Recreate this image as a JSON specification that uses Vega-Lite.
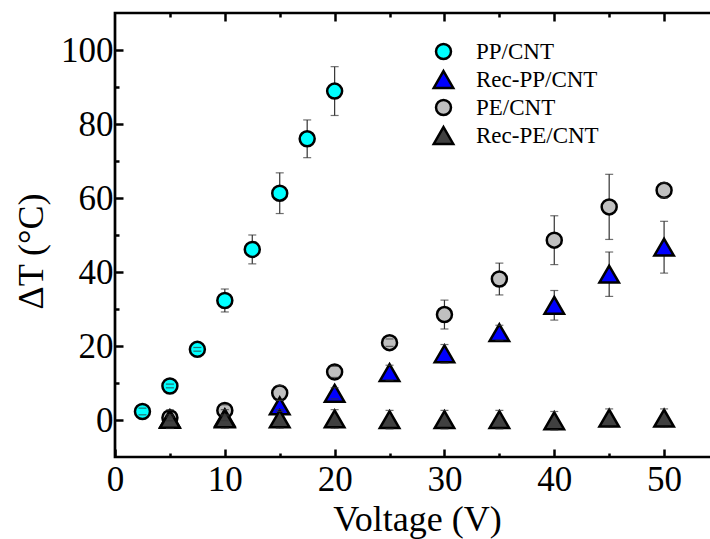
{
  "$schema": "https://vega.github.io/schema/vega-lite/v6.json",
  "width": 604,
  "height": 444,
  "autosize": "none",
  "padding": {"left": 115, "top": 13, "right": -9, "bottom": 82},
  "background": "white",
  "config": {
    "font": "Liberation Serif",
    "view": {"stroke": "black", "strokeWidth": 2.7},
    "axis": {"grid": false, "domain": false, "labelColor": "black", "titleColor": "black", "labelFont": "Liberation Serif", "titleFont": "Liberation Serif", "labelFontSize": 35, "titleFontSize": 36, "titleFontWeight": "normal", "labelFlush": false, "labelOverlap": false}
  },
  "data": {"values": [
    {"s": "PP/CNT", "v": 2.5, "t": 2.3, "lo": 1.4, "hi": 3.2},
    {"s": "PP/CNT", "v": 5, "t": 9.2, "lo": 8.7, "hi": 9.7},
    {"s": "PP/CNT", "v": 7.5, "t": 19.1, "lo": 18.6, "hi": 19.6},
    {"s": "PP/CNT", "v": 10, "t": 32.3, "lo": 29.2, "hi": 35.4},
    {"s": "PP/CNT", "v": 12.5, "t": 46.1, "lo": 42.2, "hi": 50.0},
    {"s": "PP/CNT", "v": 15, "t": 61.3, "lo": 55.8, "hi": 66.8},
    {"s": "PP/CNT", "v": 17.5, "t": 76.0, "lo": 70.9, "hi": 81.1},
    {"s": "PP/CNT", "v": 20, "t": 88.9, "lo": 82.3, "hi": 95.5},
    {"s": "PE/CNT", "v": 5, "t": 0.6, "lo": -0.2, "hi": 1.4},
    {"s": "PE/CNT", "v": 10, "t": 2.6, "lo": 1.1, "hi": 4.1},
    {"s": "PE/CNT", "v": 15, "t": 7.3, "lo": 5.3, "hi": 9.3},
    {"s": "PE/CNT", "v": 20, "t": 13.0, "lo": 11.5, "hi": 14.5},
    {"s": "PE/CNT", "v": 25, "t": 20.9, "lo": 19.9, "hi": 21.9},
    {"s": "PE/CNT", "v": 30, "t": 28.5, "lo": 24.6, "hi": 32.4},
    {"s": "PE/CNT", "v": 35, "t": 38.1, "lo": 33.8, "hi": 42.4},
    {"s": "PE/CNT", "v": 40, "t": 48.6, "lo": 42.0, "hi": 55.2},
    {"s": "PE/CNT", "v": 45, "t": 57.6, "lo": 48.8, "hi": 66.4},
    {"s": "PE/CNT", "v": 50, "t": 62.1, "lo": 60.1, "hi": 64.1},
    {"s": "Rec-PP/CNT", "v": 5, "t": 0.3, "lo": -0.2, "hi": 0.8},
    {"s": "Rec-PP/CNT", "v": 10, "t": 0.6, "lo": -0.2, "hi": 1.4},
    {"s": "Rec-PP/CNT", "v": 15, "t": 3.8, "lo": 2.3, "hi": 5.3},
    {"s": "Rec-PP/CNT", "v": 20, "t": 7.2, "lo": 5.7, "hi": 8.7},
    {"s": "Rec-PP/CNT", "v": 25, "t": 12.8, "lo": 10.8, "hi": 14.8},
    {"s": "Rec-PP/CNT", "v": 30, "t": 17.9, "lo": 15.4, "hi": 20.4},
    {"s": "Rec-PP/CNT", "v": 35, "t": 23.6, "lo": 21.6, "hi": 25.6},
    {"s": "Rec-PP/CNT", "v": 40, "t": 31.0, "lo": 27.0, "hi": 35.0},
    {"s": "Rec-PP/CNT", "v": 45, "t": 39.4, "lo": 33.4, "hi": 45.4},
    {"s": "Rec-PP/CNT", "v": 50, "t": 46.7, "lo": 39.7, "hi": 53.7},
    {"s": "Rec-PE/CNT", "v": 5, "t": 0.2, "lo": -2.3, "hi": 2.7},
    {"s": "Rec-PE/CNT", "v": 10, "t": 0.3, "lo": -2.2, "hi": 2.8},
    {"s": "Rec-PE/CNT", "v": 15, "t": 0.3, "lo": -2.2, "hi": 2.8},
    {"s": "Rec-PE/CNT", "v": 20, "t": 0.3, "lo": -2.2, "hi": 2.8},
    {"s": "Rec-PE/CNT", "v": 25, "t": 0.1, "lo": -2.4, "hi": 2.6},
    {"s": "Rec-PE/CNT", "v": 30, "t": 0.1, "lo": -2.4, "hi": 2.6},
    {"s": "Rec-PE/CNT", "v": 35, "t": 0.1, "lo": -2.4, "hi": 2.6},
    {"s": "Rec-PE/CNT", "v": 40, "t": -0.2, "lo": -2.7, "hi": 2.3},
    {"s": "Rec-PE/CNT", "v": 45, "t": 0.5, "lo": -2.0, "hi": 3.0},
    {"s": "Rec-PE/CNT", "v": 50, "t": 0.5, "lo": -2.0, "hi": 3.0}
  ]},
  "layer": [
    {
      "mark": {"type": "rule", "color": "#333333", "strokeWidth": 1.2},
      "encoding": {
        "x": {"field": "v", "type": "quantitative", "scale": {"domain": [0, 55], "nice": false, "zero": false},
          "axis": {"orient": "bottom", "title": "Voltage (V)", "values": [0, 10, 20, 30, 40, 50],
            "ticks": true, "tickColor": "black", "tickWidth": 2.5, "tickSize": -8, "labelPadding": 13,
            "titleX": 302, "titleY": 73, "titleBaseline": "alphabetic", "titleAnchor": "middle"}},
        "y": {"field": "lo", "type": "quantitative", "scale": {"domain": [-10, 110], "nice": false, "zero": false},
          "axis": {"orient": "left", "title": "ΔT (°C)", "values": [0, 20, 40, 60, 80, 100],
            "ticks": true, "tickColor": "black", "tickWidth": 2.5, "tickSize": -8, "labelPadding": 10,
            "titleX": -84, "titleY": 238, "titleBaseline": "middle", "titleAnchor": "middle", "titleAngle": -90}},
        "y2": {"field": "hi"}
      }
    },
    {
      "mark": {"type": "point", "filled": true, "opacity": 1, "stroke": "black", "strokeWidth": 2.5},
      "encoding": {
        "x": {"field": "v", "type": "quantitative",
          "axis": {"orient": "top", "title": null, "labels": false, "values": [10, 20, 30, 40, 50], "ticks": true, "tickColor": "black", "tickWidth": 2.5, "tickSize": -8}},
        "y": {"field": "t", "type": "quantitative",
          "axis": {"orient": "right", "title": null, "labels": false, "values": [0, 20, 40, 60, 80, 100], "ticks": true, "tickColor": "black", "tickWidth": 2.5, "tickSize": -8}},
        "color": {"field": "s", "type": "nominal",
          "scale": {"domain": ["PP/CNT", "Rec-PP/CNT", "PE/CNT", "Rec-PE/CNT"], "range": ["#00FFFF", "#0000FF", "#C0C0C0", "#404040"]},
          "legend": {"title": null, "orient": "none", "legendX": 317, "legendY": 27, "labelFontSize": 23, "labelFont": "Liberation Serif", "labelColor": "black",
            "symbolSize": 225, "symbolStrokeColor": "black", "symbolStrokeWidth": 2.5, "rowPadding": 2, "labelOffset": 21, "symbolOpacity": 1}},
        "shape": {"field": "s", "type": "nominal",
          "scale": {"domain": ["PP/CNT", "Rec-PP/CNT", "PE/CNT", "Rec-PE/CNT"],
            "range": ["M-1,0A1,1 0 1,1 1,0A1,1 0 1,1 -1,0Z", "M0,-1.12L1.3,1.12L-1.3,1.12Z", "M-1,0A1,1 0 1,1 1,0A1,1 0 1,1 -1,0Z", "M0,-1.12L1.3,1.12L-1.3,1.12Z"]}},
        "size": {"value": 225}
      }
    },
    {
      "mark": {"type": "tick", "orient": "horizontal", "color": "#333333", "thickness": 1.2, "size": 8},
      "encoding": {
        "x": {"field": "v", "type": "quantitative",
          "axis": {"orient": "bottom", "title": null, "labels": false, "values": [5, 15, 25, 35, 45], "ticks": true, "tickColor": "black", "tickWidth": 2.5, "tickSize": -4}},
        "y": {"field": "lo", "type": "quantitative",
          "axis": {"orient": "left", "title": null, "labels": false, "values": [10, 30, 50, 70, 90], "ticks": true, "tickColor": "black", "tickWidth": 2.5, "tickSize": -4}}
      }
    },
    {
      "mark": {"type": "tick", "orient": "horizontal", "color": "#333333", "thickness": 1.2, "size": 8},
      "encoding": {
        "x": {"field": "v", "type": "quantitative",
          "axis": {"orient": "top", "title": null, "labels": false, "values": [5, 15, 25, 35, 45], "ticks": true, "tickColor": "black", "tickWidth": 2.5, "tickSize": -4}},
        "y": {"field": "hi", "type": "quantitative",
          "axis": {"orient": "right", "title": null, "labels": false, "values": [10, 30, 50, 70, 90], "ticks": true, "tickColor": "black", "tickWidth": 2.5, "tickSize": -4}}
      }
    }
  ],
  "resolve": {"axis": {"x": "independent", "y": "independent"}}
}
